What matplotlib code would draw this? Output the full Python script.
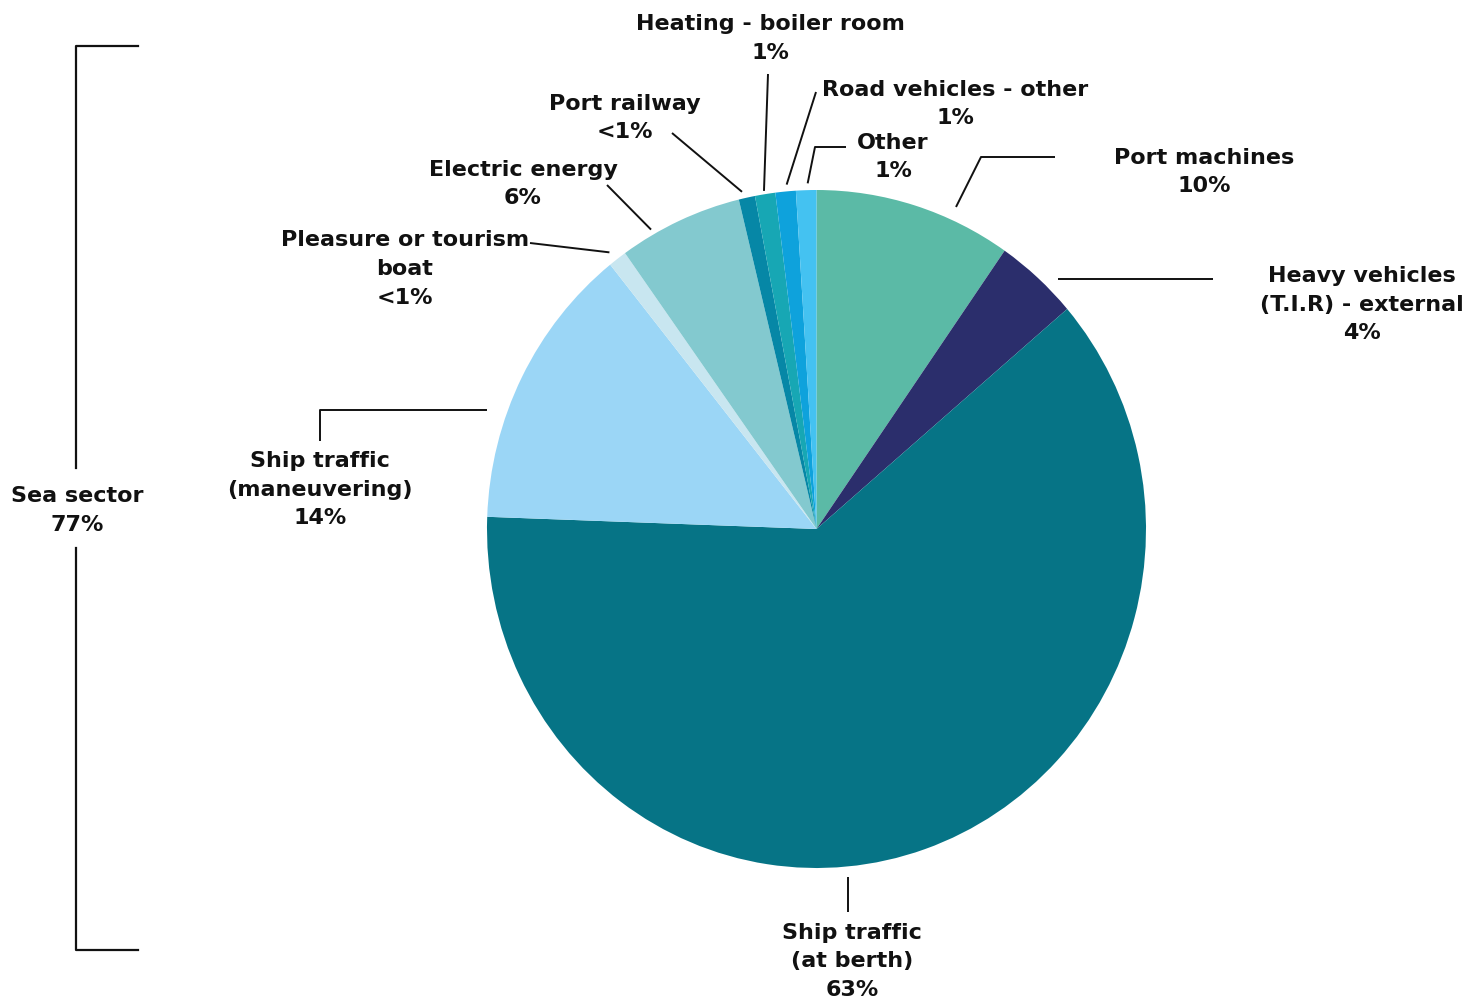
import numpy as np
import matplotlib
matplotlib.use("Agg")
import matplotlib.pyplot as plt

# --- data ---
labels = ["Port machines", "Heavy vehicles\n(T.I.R) - external", "Ship traffic\n(at berth)",
          "Ship traffic\n(maneuvering)", "Pleasure or tourism\nboat", "Electric energy",
          "Port railway", "Heating - boiler room", "Road vehicles - other", "Other"]
values = [9.7, 4.1, 62.0, 13.7, 0.9, 6.1, 0.8, 1.0, 1.0, 1.0]
pct_text = ["10%", "4%", "63%", "14%", "<1%", "6%", "<1%", "1%", "1%", "1%"]
colors = ["#5BBAA6", "#2B2E6C", "#067486", "#9BD6F6", "#C8E6F0",
          "#83C9CF", "#0687A6", "#17A7B4", "#0EA2DC", "#44C2F1"]
group_label = "Sea sector\n77%"

# --- layout (pixels, y down) ---
W, H = 1480, 1001
pie_box = (487, 190, 1146, 868)  # left, top, right, bottom
cx, cy = (pie_box[0] + pie_box[2]) / 2, (pie_box[1] + pie_box[3]) / 2
rx, ry = (pie_box[2] - pie_box[0]) / 2, (pie_box[3] - pie_box[1]) / 2

# leader: (position inside wedge, radius factor, extra points), text centre
# None in a point means "keep the previous coordinate" (straight segments)
leaders = [
    (0.69, 1.04, [(981, 157), (1055, 157)], (1204, 172)),
    (0.68, 1.04, [(1213, None)], (1362, 304.5)),
    (0.562, 1.03, [(None, 912)], (852, 961.5)),
    (0.35, 1.06, [(320, None), (320, 441)], (320, 489.5)),
    (0.36, 1.03, [(530, 243)], (405, 269)),
    (0.27, 1.016, [(607, 185)], (523, 184)),
    (0.29, 1.02, [(672, 133)], (625, 118)),
    (0.47, 1.01, [(768, 74)], (770, 38.5)),
    (0.58, 1.02, [(816, 92)], (955, 104)),
    (0.58, 1.02, [(815, 147), (846, 147)], (893, 157)),
]

fig = plt.figure(figsize=(W / 100, H / 100), dpi=100)

# pie in its own axes so it can be slightly taller than wide, like the original
pax = fig.add_axes([pie_box[0] / W, 1 - pie_box[3] / H,
                    (pie_box[2] - pie_box[0]) / W, (pie_box[3] - pie_box[1]) / H])
pax.pie(values, colors=colors, startangle=90, counterclock=False,
        wedgeprops=dict(linewidth=0))
pax.set_aspect("auto")
pax.set_xlim(-1, 1)
pax.set_ylim(-1, 1)
pax.axis("off")

# overlay in pixel coordinates for labels and leader lines
ax = fig.add_axes([0, 0, 1, 1])
ax.set_xlim(0, W)
ax.set_ylim(H, 0)
ax.axis("off")

font = dict(fontsize=16, fontweight="bold", family="DejaVu Sans",
            ha="center", va="center", linespacing=1.56, color="#111111")

total = sum(values)
cum = np.concatenate([[0], np.cumsum(values)])
for i, (pos, rf, pts, txy) in enumerate(leaders):
    a = np.deg2rad(360 * (cum[i] + pos * values[i]) / total)
    xs = [cx + rx * rf * np.sin(a)]
    ys = [cy - ry * rf * np.cos(a)]
    for px, py in pts:
        xs.append(xs[-1] if px is None else px)
        ys.append(ys[-1] if py is None else py)
    ax.plot(xs, ys, color="#111111", lw=1.4, solid_capstyle="butt")
    ax.text(txy[0], txy[1], labels[i] + "\n" + pct_text[i], **font)

# sea sector bracket
ax.plot([138, 76, 76], [46, 46, 468], color="#111111", lw=1.6)
ax.plot([76, 76, 138], [548, 950, 950], color="#111111", lw=1.6)
ax.text(77, 510.5, group_label, **font)

fig.savefig("out.png", dpi=100)
